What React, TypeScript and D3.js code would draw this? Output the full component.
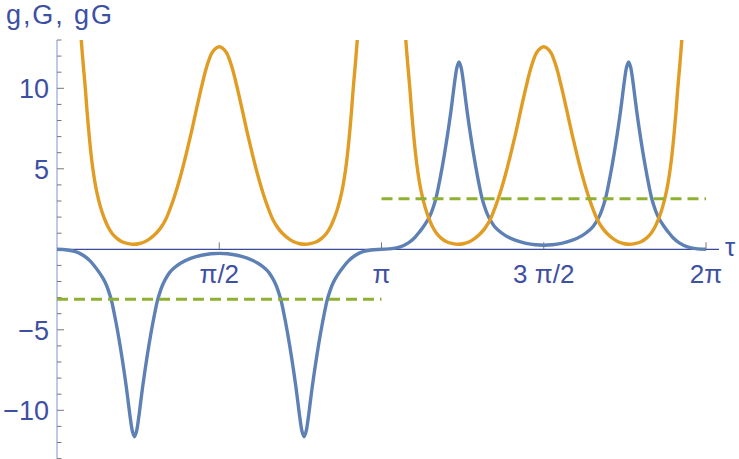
import React from 'react';
import * as d3 from 'd3';

// g(τ) – blue curve
const gTau = [
  0, 0.1, 0.18, 0.26, 0.32, 0.37, 0.41, 0.45, 0.48, 0.51, 0.53, 0.55, 0.57, 0.59, 0.61, 0.63, 0.65, 0.67,
  0.69, 0.71, 0.73, 0.75, 0.77, 0.79, 0.81, 0.83, 0.85, 0.87, 0.89, 0.91, 0.93, 0.95, 0.97, 0.99, 1.02,
  1.05, 1.09, 1.13, 1.2, 1.3, 1.4, 1.49, 1.571, 1.652, 1.742, 1.842, 1.942, 2.012, 2.052, 2.092, 2.122,
  2.152, 2.172, 2.192, 2.212, 2.232, 2.252, 2.272, 2.292, 2.312, 2.332, 2.352, 2.372, 2.392, 2.412, 2.432,
  2.452, 2.472, 2.492, 2.512, 2.532, 2.552, 2.572, 2.592, 2.612, 2.632, 2.662, 2.692, 2.732, 2.772, 2.822,
  2.882, 2.962, 3.042, 3.1416, 3.242, 3.322, 3.402, 3.462, 3.512, 3.552, 3.592, 3.622, 3.652, 3.672, 3.692,
  3.712, 3.732, 3.752, 3.772, 3.792, 3.812, 3.832, 3.852, 3.872, 3.892, 3.912, 3.932, 3.952, 3.972, 3.992,
  4.012, 4.032, 4.052, 4.072, 4.092, 4.112, 4.132, 4.162, 4.192, 4.232, 4.272, 4.342, 4.442, 4.542, 4.632,
  4.712, 4.794, 4.884, 4.984, 5.084, 5.154, 5.194, 5.234, 5.264, 5.294, 5.314, 5.334, 5.354, 5.374, 5.394,
  5.414, 5.434, 5.454, 5.474, 5.494, 5.514, 5.534, 5.554, 5.574, 5.594, 5.614, 5.634, 5.654, 5.674, 5.694,
  5.714, 5.734, 5.754, 5.774, 5.804, 5.834, 5.874, 5.914, 5.964, 6.024, 6.104, 6.184, 6.2832,
];
const gVal = [
  0, -0.04, -0.15, -0.4, -0.72, -1.1, -1.45, -1.85, -2.25, -2.8, -3.25, -3.85, -4.5, -5.2, -5.95, -6.75, -7.6,
  -8.5, -9.5, -10.5, -11.3, -11.64, -11.3, -10.5, -9.5, -8.5, -7.6, -6.75, -5.95, -5.2, -4.5, -3.85, -3.25,
  -2.8, -2.25, -1.85, -1.45, -1.18, -0.85, -0.55, -0.37, -0.28, -0.25, -0.28, -0.37, -0.55, -0.85, -1.18,
  -1.45, -1.85, -2.25, -2.8, -3.25, -3.85, -4.5, -5.2, -5.95, -6.75, -7.6, -8.5, -9.5, -10.5, -11.3, -11.64,
  -11.3, -10.5, -9.5, -8.5, -7.6, -6.75, -5.95, -5.2, -4.5, -3.85, -3.25, -2.8, -2.25, -1.85, -1.45, -1.1,
  -0.72, -0.4, -0.15, -0.04, 0, 0.04, 0.15, 0.4, 0.72, 1.1, 1.45, 1.85, 2.25, 2.8, 3.25, 3.85, 4.5, 5.2, 5.95,
  6.75, 7.6, 8.5, 9.5, 10.5, 11.3, 11.64, 11.3, 10.5, 9.5, 8.5, 7.6, 6.75, 5.95, 5.2, 4.5, 3.85, 3.25, 2.8,
  2.25, 1.85, 1.45, 1.18, 0.85, 0.55, 0.37, 0.28, 0.25, 0.28, 0.37, 0.55, 0.85, 1.18, 1.45, 1.85, 2.25, 2.8,
  3.25, 3.85, 4.5, 5.2, 5.95, 6.75, 7.6, 8.5, 9.5, 10.5, 11.3, 11.64, 11.3, 10.5, 9.5, 8.5, 7.6, 6.75, 5.95,
  5.2, 4.5, 3.85, 3.25, 2.8, 2.25, 1.85, 1.45, 1.1, 0.72, 0.4, 0.15, 0.04, 0,
];

// G(τ) – orange curve, two branches (it blows up at 0, π, 2π)
const bigGTau1 = [
  0.2, 0.235, 0.255, 0.274, 0.29, 0.306, 0.32, 0.339, 0.36, 0.387, 0.42, 0.452, 0.49, 0.532, 0.58, 0.629,
  0.69, 0.742, 0.8, 0.85, 0.9, 0.95, 1.0, 1.05, 1.1, 1.15, 1.2, 1.25, 1.3, 1.35, 1.4, 1.45, 1.5, 1.54, 1.571,
  1.602, 1.642, 1.692, 1.742, 1.792, 1.842, 1.892, 1.942, 1.992, 2.042, 2.092, 2.142, 2.192, 2.242, 2.292,
  2.342, 2.4, 2.452, 2.513, 2.562, 2.61, 2.652, 2.69, 2.722, 2.755, 2.782, 2.803, 2.822, 2.836, 2.852, 2.868,
  2.887, 2.907, 2.942,
];
const bigGVal1 = [
  16.5, 13.0, 11.4, 10.0, 8.65, 7.45, 6.5, 5.4, 4.45, 3.5, 2.65, 2.03, 1.45, 1.0, 0.68, 0.47, 0.35, 0.31,
  0.36, 0.47, 0.66, 0.93, 1.3, 1.82, 2.6, 3.55, 4.65, 5.9, 7.25, 8.7, 10.1, 11.35, 12.2, 12.5, 12.58, 12.5,
  12.2, 11.35, 10.1, 8.7, 7.25, 5.9, 4.65, 3.55, 2.6, 1.82, 1.3, 0.93, 0.66, 0.47, 0.36, 0.31, 0.35, 0.47,
  0.68, 1.0, 1.45, 2.03, 2.65, 3.5, 4.45, 5.4, 6.5, 7.45, 8.65, 10.0, 11.4, 13.0, 16.5,
];
const bigGTau2 = [
  3.342, 3.377, 3.397, 3.416, 3.432, 3.448, 3.462, 3.481, 3.502, 3.529, 3.562, 3.594, 3.632, 3.674, 3.722,
  3.771, 3.832, 3.884, 3.942, 3.992, 4.042, 4.092, 4.142, 4.192, 4.242, 4.292, 4.342, 4.392, 4.442, 4.492,
  4.542, 4.592, 4.642, 4.682, 4.712, 4.743, 4.783, 4.833, 4.883, 4.933, 4.983, 5.033, 5.083, 5.133, 5.183,
  5.233, 5.283, 5.333, 5.383, 5.433, 5.483, 5.542, 5.594, 5.655, 5.704, 5.752, 5.794, 5.832, 5.864, 5.897,
  5.924, 5.945, 5.964, 5.978, 5.994, 6.01, 6.029, 6.049, 6.084,
];
const bigGVal2 = [
  16.5, 13.0, 11.4, 10.0, 8.65, 7.45, 6.5, 5.4, 4.45, 3.5, 2.65, 2.03, 1.45, 1.0, 0.68, 0.47, 0.35, 0.31,
  0.36, 0.47, 0.66, 0.93, 1.3, 1.82, 2.6, 3.55, 4.65, 5.9, 7.25, 8.7, 10.1, 11.35, 12.2, 12.5, 12.58, 12.5,
  12.2, 11.35, 10.1, 8.7, 7.25, 5.9, 4.65, 3.55, 2.6, 1.82, 1.3, 0.93, 0.66, 0.47, 0.36, 0.31, 0.35, 0.47,
  0.68, 1.0, 1.45, 2.03, 2.65, 3.5, 4.45, 5.4, 6.5, 7.45, 8.65, 10.0, 11.4, 13.0, 16.5,
];

// gG – green dashed averages over each half period
const avgStart = [0, 3.1416];
const avgEnd = [3.1416, 6.2832];
const avgVal = [-3.1, 3.14];

const xTickVals = [Math.PI / 2, Math.PI, (3 * Math.PI) / 2, 2 * Math.PI];
const xTickLabels = ['π/2', 'π', '3 π/2', '2π'];
const yTickVals = [-10, -5, 5, 10];
const yTickLabels = ['−10', '−5', '5', '10'];
const yMinorTicks = d3.range(-13, 14).filter((v) => v % 5 !== 0);

const W = 739;
const H = 459;
const FONT = '"Liberation Sans", Arial, sans-serif';
const LABEL = '#3d50a2';

const App: React.FC = () => {
  const x = d3.scaleLinear().domain([0, 2 * Math.PI]).range([57, 706]);
  const y = d3.scaleLinear().domain([-13, 13]).range([458.6, 40]);

  const line = d3
    .line<[number, number]>()
    .x((d) => x(d[0]))
    .y((d) => y(d[1]))
    .curve(d3.curveCatmullRom.alpha(0.5));

  const gPts = gTau.map((t, i) => [t, gVal[i]] as [number, number]);
  const G1 = bigGTau1.map((t, i) => [t, bigGVal1[i]] as [number, number]);
  const G2 = bigGTau2.map((t, i) => [t, bigGVal2[i]] as [number, number]);

  const y0 = y(0);

  return (
    <svg
      width={W}
      height={H}
      viewBox={`0 0 ${W} ${H}`}
      style={{ position: 'absolute', left: 0, top: 0, background: '#fff' }}
      fontFamily={FONT}
    >
      <defs>
        <clipPath id="plotClip">
          <rect x={40} y={y(13)} width={690} height={y(-13) - y(13)} />
        </clipPath>
      </defs>

      {/* title */}
      <text x={6} y={24} fontSize={27} fill={LABEL} textLength={106} lengthAdjust="spacing">
        g,G, gG
      </text>

      {/* y axis */}
      <line x1={57} x2={57} y1={y(13)} y2={H} stroke="#8393d0" strokeWidth={1} />
      {yMinorTicks.map((v) => (
        <line key={`m${v}`} x1={57} x2={61.5} y1={y(v)} y2={y(v)} stroke="#777" strokeWidth={1} />
      ))}
      {yTickVals.map((v, i) => (
        <g key={`y${v}`}>
          <line x1={57} x2={64} y1={y(v)} y2={y(v)} stroke="#777" strokeWidth={1} />
          <text x={49} y={y(v) + 10} fontSize={27} fill={LABEL} textAnchor="end">
            {yTickLabels[i]}
          </text>
        </g>
      ))}

      {/* x axis */}
      <line x1={57} x2={719} y1={y0} y2={y0} stroke="#3a4a9a" strokeWidth={1.2} />
      {xTickVals.map((v, i) => (
        <g key={`x${i}`}>
          <line x1={x(v)} x2={x(v)} y1={y0} y2={y0 - 7} stroke="#777" strokeWidth={1} />
          <text x={x(v)} y={283} fontSize={26} fill={LABEL} textAnchor="middle">
            {xTickLabels[i]}
          </text>
        </g>
      ))}
      <text x={725} y={256} fontSize={26} fill={LABEL}>
        τ
      </text>

      {/* curves */}
      <g clipPath="url(#plotClip)" fill="none" strokeWidth={3.4} strokeLinejoin="round">
        <path d={line(gPts) ?? ''} stroke="#5e81b5" />
        <path d={line(G1) ?? ''} stroke="#e19c24" />
        <path d={line(G2) ?? ''} stroke="#e19c24" />
        {avgVal.map((v, i) => (
          <line
            key={`a${i}`}
            x1={x(avgStart[i])}
            x2={x(avgEnd[i])}
            y1={y(v)}
            y2={y(v)}
            stroke="#8fb032"
            strokeWidth={3}
            strokeDasharray="11,6"
          />
        ))}
      </g>
    </svg>
  );
};

export default App;
